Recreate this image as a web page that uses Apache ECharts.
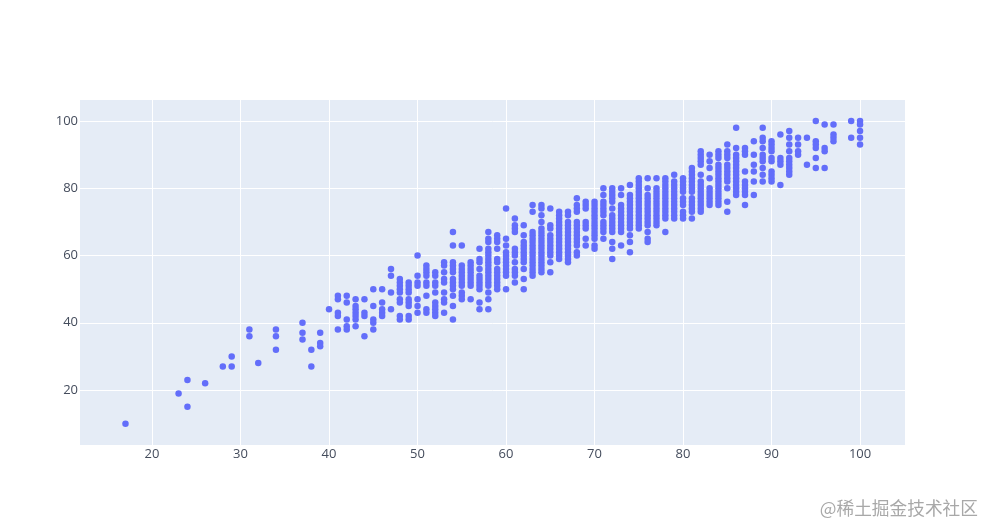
<!DOCTYPE html>
<html>

<head>
    <title></title>
    <meta charset="utf-8">
    <script src="https://cdn.jsdelivr.net/npm/echarts@6/dist/echarts.min.js"></script>
    <style>
        html,
        body {
            margin: 0;
            background: #fff;
        }
    </style>
</head>

<body>
    <div id="main" style="width: 985px;height:525px;"></div>
    <script type="text/javascript">
        var xTicks = [20, 30, 40, 50, 60, 70, 80, 90, 100];
        var yTicks = [20, 40, 60, 80, 100];

        // x value of each column of points
        var xValues = [17, 23, 24, 26, 28, 29, 31, 32, 34, 37, 38, 39, 40, 41, 42, 43, 44, 45, 46, 47, 48, 49,
            50, 51, 52, 53, 54, 55, 56, 57, 58, 59, 60, 61, 62, 63, 64, 65, 66, 67, 68, 69, 70, 71, 72, 73, 74,
            75, 76, 77, 78, 79, 80, 81, 82, 83, 84, 85, 86, 87, 88, 89, 90, 91, 92, 93, 94, 95, 96, 97, 99, 100];

        // y values, one list per x value
        var yColumns = [
            [10],
            [19],
            [23, 15],
            [22],
            [27],
            [30, 27],
            [38, 36],
            [28],
            [38, 36, 32],
            [40, 37, 35],
            [32, 27],
            [37, 34, 33],
            [44],
            [48, 47, 43, 42, 38],
            [48, 46, 41, 39, 38],
            [47, 45, 44, 43, 42, 41, 39],
            [47, 43, 42, 36],
            [50, 45, 41, 40, 38],
            [50, 46, 44, 43, 42],
            [56, 54, 49, 44],
            [53, 52, 51, 50, 49, 47, 46, 42, 41],
            [52, 51, 50, 49, 47, 46, 45, 42, 41],
            [60, 54, 52, 51, 47, 45, 43],
            [57, 56, 55, 54, 52, 51, 48, 44, 43],
            [55, 54, 52, 51, 49, 46, 45, 44, 43, 42],
            [58, 57, 55, 53, 52, 49, 47, 46, 43],
            [67, 63, 58, 57, 56, 55, 53, 52, 51, 50, 48, 45, 41],
            [63, 57, 56, 55, 54, 53, 52, 51, 49, 48, 47],
            [58, 57, 56, 55, 54, 53, 52, 51, 47],
            [62, 59, 58, 56, 54, 53, 52, 51, 50, 46, 44],
            [67, 65, 64, 62, 61, 60, 59, 58, 57, 56, 55, 54, 53, 52, 51, 49, 47, 44],
            [66, 65, 64, 62, 59, 58, 56, 55, 54, 53, 52, 51, 50],
            [74, 65, 63, 61, 60, 59, 58, 57, 56, 55, 54, 50],
            [71, 69, 68, 67, 62, 61, 60, 58, 56, 55, 54, 52],
            [69, 66, 64, 63, 62, 61, 60, 59, 58, 56, 53, 50],
            [75, 73, 67, 66, 65, 64, 63, 62, 61, 60, 59, 58, 57, 56, 55, 54],
            [75, 74, 72, 70, 68, 67, 66, 65, 64, 63, 62, 61, 60, 59, 58, 57, 56, 55],
            [74, 69, 68, 66, 65, 64, 63, 62, 61, 60, 58, 55],
            [73, 72, 71, 70, 69, 68, 67, 66, 65, 64, 63, 62, 61, 60, 59],
            [73, 72, 70, 69, 68, 67, 66, 65, 64, 63, 62, 61, 60, 59, 58],
            [77, 75, 74, 73, 70, 69, 68, 67, 66, 65, 64, 63, 61, 60],
            [76, 75, 74, 70, 69, 68, 65, 63],
            [76, 75, 74, 73, 72, 71, 70, 69, 68, 67, 66, 65, 63, 62],
            [80, 78, 76, 75, 74, 73, 72, 70, 69, 68, 67, 65],
            [80, 79, 78, 77, 76, 74, 72, 71, 70, 69, 68, 67, 64, 62, 59],
            [80, 78, 75, 74, 73, 72, 71, 70, 69, 68, 67, 63],
            [81, 78, 77, 76, 75, 74, 73, 72, 71, 70, 69, 68, 66, 64, 61],
            [83, 82, 81, 80, 79, 78, 77, 76, 75, 74, 73, 72, 71, 70, 69, 68],
            [83, 80, 78, 77, 76, 75, 74, 73, 72, 71, 70, 69, 67, 65, 64],
            [83, 80, 79, 78, 77, 76, 75, 74, 73, 72, 71, 70, 69],
            [83, 82, 81, 80, 79, 78, 77, 76, 75, 74, 73, 72, 71, 67],
            [84, 82, 81, 80, 79, 78, 77, 76, 75, 74, 73, 72, 71],
            [83, 82, 81, 80, 79, 77, 76, 75, 73, 72, 71],
            [86, 85, 84, 83, 82, 81, 80, 79, 77, 76, 75, 74, 73, 71],
            [91, 90, 89, 88, 87, 84, 82, 81, 80, 79, 78, 77, 76, 75, 74, 73],
            [90, 88, 86, 83, 80, 79, 78, 77, 76, 75],
            [91, 90, 89, 87, 86, 85, 84, 83, 82, 81, 80, 79, 78, 77, 76, 75],
            [93, 91, 90, 89, 87, 86, 85, 84, 83, 82, 80, 76, 73],
            [98, 92, 90, 89, 88, 87, 86, 85, 84, 83, 82, 81, 80, 79, 78],
            [92, 91, 90, 85, 82, 81, 80, 79, 78, 75],
            [94, 90, 87, 85, 82, 78],
            [98, 95, 94, 92, 90, 89, 88, 86, 84, 82],
            [94, 93, 92, 91, 89, 88, 85, 84, 83, 82],
            [96, 89, 88, 87, 81],
            [97, 95, 93, 91, 89, 88, 87, 86, 85, 84],
            [95, 93, 91, 90],
            [95, 87],
            [100, 94, 93, 92, 89, 86],
            [99, 92, 91, 86],
            [99, 96, 95, 94],
            [100, 95],
            [100, 99, 97, 95, 93]
        ];

        var points = [];
        for (var i = 0; i < xValues.length; i++) {
            for (var j = 0; j < yColumns[i].length; j++) {
                points.push([xValues[i], yColumns[i][j]]);
            }
        }

        var myChart = echarts.init(document.getElementById('main'));
        var axisFont = { color: '#444c5c', fontSize: 13, fontFamily: '"Open Sans", verdana, arial, sans-serif' };
        var option = {
            animation: false,
            backgroundColor: '#fff',
            title: {
                text: '@稀土掘金技术社区',
                right: 7,
                top: 499,
                padding: 0,
                textStyle: {
                    color: '#a8a8a8',
                    fontSize: 17.7,
                    fontWeight: 'normal',
                    fontFamily: '"Noto Sans CJK SC"'
                }
            },
            grid: {
                left: 80,
                top: 100,
                width: 825,
                height: 345,
                show: true,
                backgroundColor: '#E5ECF6',
                borderWidth: 0
            },
            xAxis: {
                type: 'value',
                min: 11.86,
                max: 105.08,
                axisLine: { show: false },
                axisTick: { show: false, customValues: xTicks },
                axisLabel: Object.assign({ customValues: xTicks, margin: 3 }, axisFont),
                splitLine: { show: true, lineStyle: { color: '#fff', width: 1 } }
            },
            yAxis: {
                type: 'value',
                min: 3.65,
                max: 106.25,
                axisLine: { show: false },
                axisTick: { show: false, customValues: yTicks },
                axisLabel: Object.assign({ customValues: yTicks, margin: 2 }, axisFont),
                splitLine: { show: true, lineStyle: { color: '#fff', width: 1 } }
            },
            series: [{
                type: 'scatter',
                data: points,
                symbol: 'circle',
                symbolSize: 6.5,
                itemStyle: { color: '#636efa', opacity: 1 }
            }]
        };
        myChart.setOption(option);
    </script>
</body>

</html>
